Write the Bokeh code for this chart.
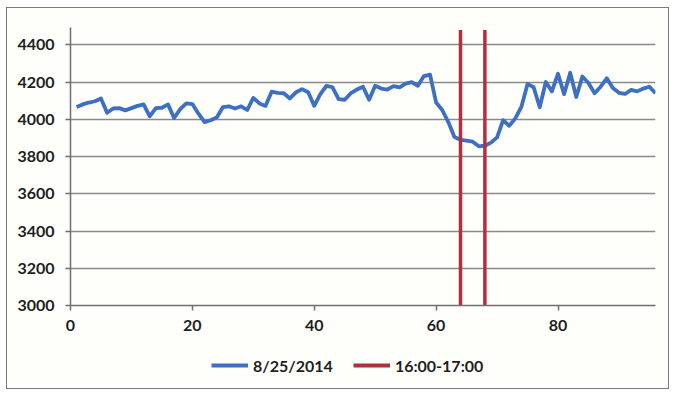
from bokeh.plotting import figure
from bokeh.layouts import column
from bokeh.models import (ColumnDataSource, FixedTicker, Legend, LegendItem,
                          Range1d)
from bokeh.embed import file_html
from bokeh.resources import INLINE

# ---- data ----
interval = list(range(1, 97))
load_8_25 = [4066, 4080, 4090, 4097, 4112, 4035, 4058, 4060, 4048, 4060,
             4072, 4080, 4016, 4060, 4062, 4080, 4007, 4055, 4085, 4082,
             4030, 3985, 3995, 4010, 4065, 4070, 4058, 4070, 4050, 4115,
             4085, 4072, 4148, 4142, 4140, 4112, 4145, 4162, 4145, 4072,
             4135, 4180, 4172, 4108, 4105, 4140, 4160, 4175, 4105, 4180,
             4165, 4160, 4178, 4172, 4192, 4200, 4180, 4232, 4240, 4090,
             4050, 3985, 3905, 3890, 3885, 3880, 3855, 3858, 3875, 3903,
             3995, 3965, 4005, 4068, 4190, 4172, 4065, 4200, 4150, 4245,
             4135, 4250, 4120, 4230, 4195, 4140, 4175, 4220, 4168, 4142,
             4136, 4158, 4150, 4165, 4175, 4140]
window_x = [64, 68]
window_y0 = [3000, 3000]
window_y1 = [4480, 4480]
y_ticks = [3000, 3200, 3400, 3600, 3800, 4000, 4200, 4400]
x_ticks = [0, 20, 40, 60, 80]
series_labels = ["8/25/2014", "16:00-17:00"]

BLUE = "#3d70c2"
RED = "#b0303f"
FONT = "Lato"
BG = "#fefefb"

src = ColumnDataSource(dict(x=interval, y=load_8_25))
wsrc = ColumnDataSource(dict(
    xs=[[x, x] for x in window_x],
    ys=[[a, b] for a, b in zip(window_y0, window_y1)]))

# ---- main chart ----
p = figure(width=661, height=333, output_backend="svg", toolbar_location=None,
           x_range=Range1d(0, 96), y_range=Range1d(3000, 4493),
           min_border_left=63, min_border_right=13, min_border_top=19,
           min_border_bottom=36)
p.background_fill_color = BG
p.border_fill_color = BG
p.outline_line_color = None

p.xaxis.ticker = FixedTicker(ticks=x_ticks)
p.yaxis.ticker = FixedTicker(ticks=y_ticks)
for ax in (p.xaxis[0], p.yaxis[0]):
    ax.axis_line_color = "#6f6f6f"
    ax.axis_line_width = 1.5
    ax.major_tick_line_color = "#6f6f6f"
    ax.major_tick_line_width = 1.5
    ax.major_tick_out = 5
    ax.major_tick_in = 0
    ax.minor_tick_line_color = None
    ax.major_label_text_font = FONT
    ax.major_label_text_font_style = "bold"
    ax.major_label_text_font_size = "16px"
    ax.major_label_text_color = "#1e1e1e"
p.xaxis.major_label_standoff = 9
p.yaxis.major_label_standoff = 11
p.xgrid.grid_line_color = None
p.ygrid.grid_line_color = "#8a8a8a"
p.ygrid.grid_line_width = 1.4

p.line("x", "y", source=src, line_color=BLUE, line_width=3.8,
       line_join="round")
p.multi_line(xs="xs", ys="ys", source=wsrc, line_color=RED, line_width=3.5)

# ---- legend strip (same series; the marks fall outside its range) ----
lg = figure(width=661, height=47, output_backend="svg", toolbar_location=None,
            x_range=Range1d(0, 96), y_range=Range1d(0, 1),
            x_axis_location=None, y_axis_location=None,
            min_border_left=0, min_border_right=0, min_border_top=0,
            min_border_bottom=0)
lg.background_fill_color = BG
lg.border_fill_color = BG
lg.outline_line_color = None
lg.grid.grid_line_color = None
blue = lg.line("x", "y", source=src, line_color=BLUE, line_width=3.8)
red = lg.multi_line(xs="xs", ys="ys", source=wsrc, line_color=RED,
                    line_width=3.8)

legend = Legend(items=[LegendItem(label=series_labels[0], renderers=[blue]),
                       LegendItem(label=series_labels[1], renderers=[red])],
                orientation="horizontal", location=(141, 13))
legend.background_fill_alpha = 0
legend.border_line_color = None
legend.padding = 0
legend.margin = 0
legend.spacing = 20
legend.glyph_width = 37
legend.label_standoff = 5
legend.label_text_font = FONT
legend.label_text_font_style = "bold"
legend.label_text_font_size = "16px"
legend.label_text_color = "#1e1e1e"
lg.add_layout(legend, "center")

layout = column(p, lg, spacing=0)
layout.styles = {"border": "1.5px solid #7a7a7a", "margin-left": "6px",
                 "margin-top": "7px", "background-color": BG}

open("out.html", "w").write(file_html(layout, INLINE))
